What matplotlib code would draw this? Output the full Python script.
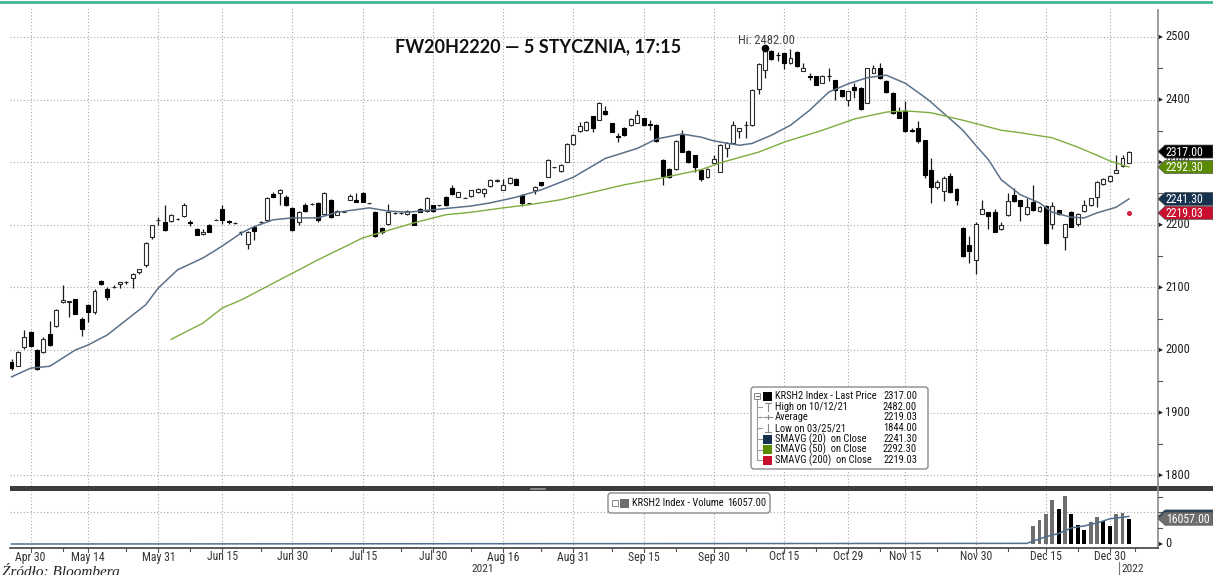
import matplotlib
matplotlib.use("Agg")
import matplotlib.pyplot as plt
import matplotlib.transforms as mtransforms
from matplotlib import font_manager
from matplotlib.patches import Polygon, Rectangle, FancyBboxPatch
from matplotlib.lines import Line2D

# ---------------- data ----------------
opens = [1980, 1975, 2004, 2028, 2000, 1997, 2025, 2038, 2077, 2076,
         2081, 2050, 2072, 2060, 2110, 2098, 2101, 2105, 2108, 2115,
         2125, 2136, 2180, 2207, 2205, 2206, 2209, 2214, 2205, 2193,
         2185, 2199, 2208, 2225, 2206, 2203, 2189, 2170, 2196, 2204,
         2208, 2249, 2251, 2245, 2227, 2204, 2232, 2233, 2234, 2217,
         2239, 2216, 2221, 2240, 2240, 2250, 2234, 2220, 2195, 2202,
         2219, 2219, 2217, 2217, 2226, 2222, 2231, 2231, 2245, 2259,
         2245, 2243, 2246, 2252, 2251, 2262, 2270, 2256, 2266, 2273,
         2248, 2234, 2256, 2268, 2277, 2292, 2286, 2301, 2329, 2350,
         2351, 2373, 2368, 2382, 2362, 2342, 2355, 2359, 2363, 2370,
         2361, 2360, 2304, 2289, 2289, 2343, 2318, 2311, 2288, 2276,
         2299, 2285, 2323, 2331, 2350, 2359, 2359, 2417, 2447, 2478,
         2472, 2474, 2458, 2476, 2446, 2437, 2437, 2427, 2438, 2431,
         2415, 2400, 2420, 2419, 2395, 2443, 2450, 2430, 2411, 2380,
         2382, 2352, 2354, 2335, 2287, 2261, 2254, 2278, 2257, 2195,
         2167, 2144, 2218, 2220, 2221, 2193, 2215, 2248, 2239, 2217,
         2236, 2222, 2230, 2202, 2223, 2180, 2221, 2201, 2222, 2231,
         2245, 2265, 2270, 2283, 2294, 2299]
highs = [1985, 1998, 2032, 2030, 2002, 2020, 2046, 2066, 2104, 2079,
         2082, 2052, 2074, 2097, 2112, 2100, 2103, 2109, 2110, 2123,
         2130, 2172, 2200, 2212, 2231, 2218, 2211, 2234, 2208, 2195,
         2194, 2201, 2210, 2231, 2208, 2205, 2190, 2190, 2198, 2206,
         2245, 2252, 2257, 2247, 2228, 2222, 2234, 2234, 2236, 2253,
         2241, 2223, 2222, 2249, 2251, 2252, 2235, 2222, 2197, 2233,
         2220, 2220, 2223, 2218, 2227, 2244, 2232, 2232, 2246, 2263,
         2253, 2244, 2256, 2258, 2258, 2273, 2273, 2273, 2276, 2274,
         2249, 2235, 2262, 2269, 2305, 2293, 2297, 2330, 2345, 2364,
         2365, 2374, 2396, 2389, 2363, 2346, 2356, 2370, 2384, 2371,
         2368, 2361, 2305, 2290, 2335, 2352, 2319, 2312, 2289, 2290,
         2311, 2329, 2332, 2366, 2355, 2365, 2417, 2458, 2482, 2479,
         2476, 2475, 2481, 2477, 2459, 2442, 2438, 2439, 2450, 2432,
         2416, 2414, 2427, 2420, 2451, 2455, 2458, 2431, 2412, 2388,
         2397, 2354, 2366, 2336, 2306, 2272, 2278, 2283, 2258, 2196,
         2182, 2205, 2239, 2221, 2225, 2204, 2251, 2258, 2240, 2242,
         2263, 2230, 2231, 2237, 2224, 2202, 2222, 2219, 2239, 2243,
         2270, 2274, 2279, 2312, 2312, 2318]
lows = [1968, 1974, 2002, 2005, 1968, 1995, 2006, 2036, 2075, 2052,
        2057, 2022, 2044, 2058, 2104, 2080, 2099, 2099, 2106, 2099,
        2121, 2132, 2178, 2200, 2190, 2205, 2208, 2212, 2198, 2183,
        2184, 2188, 2207, 2202, 2202, 2202, 2183, 2162, 2175, 2203,
        2206, 2244, 2232, 2230, 2190, 2200, 2221, 2232, 2205, 2215,
        2211, 2215, 2220, 2239, 2236, 2236, 2233, 2180, 2186, 2200,
        2218, 2218, 2215, 2199, 2220, 2221, 2221, 2230, 2230, 2248,
        2244, 2242, 2245, 2251, 2244, 2261, 2269, 2255, 2265, 2263,
        2230, 2233, 2249, 2262, 2276, 2291, 2285, 2300, 2328, 2349,
        2350, 2349, 2367, 2376, 2348, 2332, 2342, 2358, 2362, 2358,
        2352, 2333, 2264, 2275, 2288, 2316, 2299, 2284, 2270, 2275,
        2298, 2284, 2308, 2330, 2338, 2338, 2358, 2409, 2435, 2464,
        2462, 2449, 2457, 2452, 2445, 2432, 2423, 2426, 2430, 2400,
        2404, 2389, 2402, 2384, 2394, 2442, 2433, 2411, 2377, 2370,
        2349, 2348, 2330, 2275, 2235, 2257, 2238, 2251, 2231, 2149,
        2139, 2121, 2217, 2194, 2188, 2191, 2214, 2237, 2206, 2216,
        2222, 2221, 2170, 2194, 2216, 2160, 2196, 2198, 2221, 2230,
        2229, 2264, 2269, 2282, 2293, 2298]
closes = [1972, 1996, 2020, 2007, 1970, 2018, 2008, 2064, 2080, 2078,
          2058, 2033, 2060, 2094, 2105, 2084, 2101, 2108, 2108, 2122,
          2129, 2171, 2199, 2208, 2192, 2216, 2209, 2232, 2203, 2184,
          2189, 2189, 2208, 2207, 2205, 2203, 2188, 2188, 2190, 2205,
          2243, 2245, 2256, 2232, 2192, 2220, 2222, 2233, 2207, 2251,
          2212, 2222, 2221, 2246, 2237, 2237, 2234, 2182, 2188, 2221,
          2219, 2219, 2222, 2200, 2221, 2243, 2222, 2231, 2231, 2249,
          2252, 2243, 2255, 2257, 2257, 2272, 2272, 2263, 2275, 2264,
          2234, 2234, 2261, 2263, 2304, 2292, 2296, 2329, 2344, 2357,
          2364, 2355, 2395, 2377, 2349, 2340, 2343, 2369, 2376, 2359,
          2360, 2334, 2278, 2276, 2334, 2317, 2300, 2293, 2273, 2289,
          2305, 2328, 2331, 2359, 2354, 2359, 2416, 2457, 2478, 2465,
          2471, 2458, 2466, 2453, 2450, 2436, 2424, 2438, 2437, 2416,
          2405, 2413, 2416, 2385, 2450, 2450, 2434, 2412, 2378, 2371,
          2350, 2350, 2334, 2279, 2261, 2268, 2274, 2252, 2240, 2150,
          2158, 2202, 2225, 2214, 2189, 2200, 2238, 2238, 2230, 2228,
          2223, 2229, 2171, 2230, 2217, 2201, 2197, 2218, 2231, 2242,
          2269, 2273, 2278, 2287, 2306, 2317]

sma20_idx = [0, 3, 6, 10, 12, 15, 18, 21, 23, 26, 30, 33, 36, 38, 41, 44, 48, 51,
             56, 59, 62, 66, 69, 72, 75, 79, 83, 88, 93, 98, 101, 105, 108, 110,
             114, 116, 119, 122, 125, 128, 131, 134, 137, 140, 143, 144, 149, 151,
             153, 155, 158, 161, 163, 166, 168, 170, 173, 175]
sma20_val = [1957, 1971, 1974, 2000, 2008, 2024, 2048, 2072, 2099, 2128, 2147, 2166,
             2187, 2197, 2208, 2211, 2211, 2220, 2227, 2222, 2220, 2224, 2227, 2230,
             2235, 2244, 2256, 2276, 2306, 2322, 2337, 2345, 2340, 2334, 2327, 2330,
             2343, 2359, 2383, 2412, 2425, 2435, 2439, 2426, 2404, 2396, 2351, 2327,
             2304, 2272, 2248, 2235, 2220, 2212, 2211, 2219, 2228, 2241.3]
sma50_idx = [25, 30, 33, 36, 42, 48, 55, 58, 63, 68, 72, 77, 81, 86, 91, 96, 102,
             108, 111, 117, 121, 127, 132, 137, 140, 144, 149, 155, 158, 163, 167,
             170, 172, 175]
sma50_val = [2017, 2043, 2067, 2080, 2112, 2144, 2179, 2188, 2203, 2216, 2220, 2227,
             2232, 2240, 2252, 2264, 2275, 2288, 2299, 2316, 2332, 2351, 2369, 2380,
             2382, 2379, 2367, 2351, 2347, 2339, 2324, 2311, 2302, 2292.3]
sma200_idx = [175]
sma200_val = [2219.03]

vol_idx = [160, 161, 162, 163, 164, 165, 166, 167, 168, 169, 170, 171, 172, 173, 174, 175]
vol_val = [11470, 15430, 18770, 28150, 22310, 30650, 19180, 12300, 9170, 13970,
           17100, 14600, 11470, 19180, 19810, 16057]
vol_up = [1, 1, 1, 1, 0, 1, 0, 0, 0, 1, 1, 0, 0, 1, 1, 0]
volsma_idx = [0, 159, 162, 164, 166, 168, 170, 172, 175]
volsma_val = [0, 400, 4600, 6700, 10200, 11500, 13300, 16000, 17500]

tick_idx = [3, 12, 23, 33, 44, 55, 66, 77, 88, 99, 110, 121, 131, 140, 151, 162, 172]
tick_labels = ["Apr 30", "May 14", "May 31", "Jun 15", "Jun 30", "Jul 15", "Jul 30",
               "Aug 16", "Aug 31", "Sep 15", "Sep 30", "Oct 15", "Oct 29", "Nov 15",
               "Nov 30", "Dec 15", "Dec 30"]
minor_idx = [8, 18, 28, 39, 50, 61, 72, 83, 94, 104, 115, 126, 136, 145, 156, 167, 176]
price_ticks = [1800, 1900, 2000, 2100, 2200, 2300, 2400, 2500]
price_minor = [1850, 1950, 2050, 2150, 2250, 2350, 2450]

legend_rows = [("KRSH2 Index - Last Price", "2317.00"),
               ("High on 10/12/21", "2482.00"),
               ("Average", "2219.03"),
               ("Low on 03/25/21", "1844.00"),
               ("SMAVG (20)  on Close", "2241.30"),
               ("SMAVG (50)  on Close", "2292.30"),
               ("SMAVG (200)  on Close", "2219.03")]
title = "FW20H2220 \u2014 5 STYCZNIA, 17:15"

# ---------------- fonts ----------------
_installed = {f.name for f in font_manager.fontManager.ttflist}
_narrow = None
for cand in ["Roboto Condensed", "Liberation Sans Narrow", "DejaVu Sans Condensed",
             "Open Sans Condensed"]:
    if cand in _installed:
        _narrow = cand
        break
if _narrow is None:
    _narrow = "Roboto" if "Roboto" in _installed else "DejaVu Sans"
    FS = 0.86
else:
    FS = 1.0
NARROW = [_narrow, "DejaVu Sans"]

C_SMA20 = "#5b7189"
C_SMA50 = "#7cae3f"
C_RED = "#c8102e"
C_GRID = "#a8a8a8"

W, H = 1213, 575
fig = plt.figure(figsize=(W / 100, H / 100), dpi=100)
fig.patch.set_facecolor("white")
ID = mtransforms.IdentityTransform()


def py(y):
    return H - y


ax = fig.add_axes([10 / W, (H - 486) / H, 1147 / W, 478 / H])
axv = fig.add_axes([10 / W, (H - 548) / H, 1147 / W, 57 / H])
XMIN, XMAX = -0.235, 179.4
ax.set_xlim(XMIN, XMAX)
ax.set_ylim(1782.7, 2546.3)
axv.set_xlim(XMIN, XMAX)
axv.set_ylim(-2540, 33650)
for a in (ax, axv):
    for s in a.spines.values():
        s.set_visible(False)
    a.set_xticks([])
    a.set_yticks([])
    a.patch.set_alpha(0)

# grid
for v in price_ticks:
    ax.axhline(v, color=C_GRID, lw=0.8, ls=(0, (1, 2)), zorder=0)
for k in tick_idx:
    ax.axvline(k, color=C_GRID, lw=0.8, ls=(0, (1, 2)), zorder=0)
    axv.axvline(k, color=C_GRID, lw=0.8, ls=(0, (1, 2)), zorder=0)
axv.axhline(20000, color=C_GRID, lw=0.8, ls=(0, (1, 2)), zorder=0)

# candles
for k, (o, h, l, c) in enumerate(zip(opens, highs, lows, closes)):
    up = c >= o
    ax.vlines(k, l, h, color="#1a1a1a", lw=0.9, zorder=2)
    ax.bar(k, abs(c - o), bottom=min(o, c), width=0.62,
           facecolor="white" if up else "black",
           edgecolor="#2a2a2a" if up else "black", lw=0.8, zorder=3)

ax.plot(sma20_idx, sma20_val, color=C_SMA20, lw=1.1, zorder=4)
ax.plot(sma50_idx, sma50_val, color=C_SMA50, lw=1.0, zorder=4)
ax.plot(sma200_idx, sma200_val, "o", color="#d0223a", ms=2.6, zorder=4)

# high marker
ax.plot([118], [max(highs)], "o", color="black", ms=4.5, zorder=5, clip_on=False)

# volume
vcols = ["#6e6e6e" if u else "#000000" for u in vol_up]
axv.bar(vol_idx, vol_val, width=0.62, color=vcols, zorder=3)
axv.plot(volsma_idx, volsma_val, color="#4f6f8f", lw=1.1, zorder=4)

# ---------- frame lines ----------
fig.add_artist(Line2D([0, W], [py(2), py(2)], color="#43b596", lw=2, transform=ID))
fig.add_artist(Line2D([1157.5, 1157.5], [py(10), py(548)], color="#8c8c8c", lw=1.2, transform=ID))
fig.add_artist(Line2D([10, 1157.5], [py(548), py(548)], color="#404040", lw=1.2, transform=ID))
fig.add_artist(Rectangle((10, py(491)), W - 10, 5, facecolor="#3c3c3c", edgecolor="none", transform=ID))
fig.add_artist(Line2D([531, 545], [py(488.5), py(488.5)], color="#9a9a9a", lw=1.2, transform=ID))


def ydisp(a, v):
    return a.transData.transform((0, v))[1]


def xdisp(k):
    return ax.transData.transform((k, 0))[0]


def arrow_tick(yd):
    fig.add_artist(Polygon([(1158, yd + 2.5), (1163, yd), (1158, yd - 2.5)], closed=True,
                           facecolor="#222", edgecolor="none", transform=ID))


# price axis labels
for v in price_ticks:
    yd = ydisp(ax, v)
    arrow_tick(yd)
    fig.text(1165, yd, str(v), ha="left", va="center", fontsize=9 * FS, color="#222",
             family=NARROW, transform=ID)
for v in price_minor:
    yd = ydisp(ax, v)
    fig.add_artist(Line2D([1158, 1162], [yd, yd], color="#555", lw=0.8, transform=ID))

# volume axis
yd0 = ydisp(axv, 0)
arrow_tick(yd0)
fig.text(1165, yd0, "0", ha="left", va="center", fontsize=9 * FS, color="#222",
         family=NARROW, transform=ID)
for v in (10000, 20000, 30000):
    yd = ydisp(axv, v)
    fig.add_artist(Line2D([1158, 1162], [yd, yd], color="#555", lw=0.8, transform=ID))


def tag(yd, text, fc, tc="white", z=10):
    fig.add_artist(Polygon([(1158, yd), (1165, yd + 6.5), (1213, yd + 6.5), (1213, yd - 6.5), (1165, yd - 6.5)],
                           closed=True, facecolor=fc, edgecolor="#555", lw=0.5, transform=ID, zorder=z))
    t = fig.text(1166, yd - 0.5, text, ha="left", va="center", fontsize=8.5 * FS, color=tc,
                 family=NARROW, transform=ID)
    t.set_zorder(z + 1)


tag(ydisp(ax, closes[-1]), "%.2f" % closes[-1], "#000000")
tag(ydisp(ax, sma50_val[-1]), "%.2f" % sma50_val[-1], "#5a8a00")
tag(ydisp(ax, sma20_val[-1]), "%.2f" % sma20_val[-1], "#16324f")
tag(ydisp(ax, sma200_val[-1]), "%.2f" % sma200_val[-1], C_RED)
tag(ydisp(axv, volsma_val[-1]), "", "#1f3f5f", z=8)
tag(ydisp(axv, vol_val[-1]), "%.2f" % vol_val[-1], "#6d6d6d")

# date labels
for k, lab in zip(tick_idx, tick_labels):
    fig.text(xdisp(k), py(557), lab, ha="center", va="center", fontsize=8.5 * FS, color="#333",
             family=NARROW, transform=ID)
    fig.add_artist(Line2D([xdisp(k), xdisp(k)], [py(548), py(552)], color="#555", lw=0.8, transform=ID))
for k in minor_idx:
    fig.add_artist(Line2D([xdisp(k), xdisp(k)], [py(548), py(551)], color="#555", lw=0.8, transform=ID))
fig.text(483, py(569.5), "2021", ha="center", va="center", fontsize=8.2 * FS, color="#333",
         family=NARROW, transform=ID)
fig.text(1133, py(569.5), "2022", ha="center", va="center", fontsize=8.2 * FS, color="#333",
         family=NARROW, transform=ID)
fig.add_artist(Line2D([1119, 1119], [py(562), py(575)], color="#777", lw=0.8, transform=ID))
fig.text(2, py(563), "\u0179r\u00f3d\u0142o: Bloomberg", ha="left", va="top", fontsize=11,
         fontstyle="italic", family=["Liberation Serif", "DejaVu Serif"], color="#222", transform=ID)

# title and Hi annotation
fig.text(538, py(47), title, ha="center", va="center", fontsize=13, fontweight="bold",
         family=["Lato", "DejaVu Sans"], color="#111", transform=ID)
fig.text(738, py(41), "Hi: 2482.00", ha="left", va="center", fontsize=9 * FS, color="#444",
         family=NARROW, transform=ID)

# ---------- legend (price) ----------
fig.add_artist(FancyBboxPatch((751, py(469)), 177, 82, boxstyle="round,pad=0,rounding_size=3",
                              facecolor="white", edgecolor="#8a8a8a", lw=1, transform=ID, zorder=6))
rows_y = [396, 406.5, 417, 428, 439, 449.5, 460]
ZL = 7
LFS = 7.6 * FS
fig.add_artist(Line2D([757, 757], [py(399), py(460)], color="#999", lw=0.8, transform=ID, zorder=ZL))
for ry in rows_y[1:]:
    fig.add_artist(Line2D([757, 762], [py(ry), py(ry)], color="#999", lw=0.8, transform=ID, zorder=ZL))
fig.add_artist(Rectangle((754, py(399)), 6, 6, facecolor="white", edgecolor="#888", lw=0.7, transform=ID, zorder=ZL))
fig.add_artist(Line2D([755.5, 758.5], [py(396), py(396)], color="#666", lw=0.7, transform=ID, zorder=ZL + 1))
sq = {0: "#000000", 4: "#16324f", 5: "#5a8a00", 6: C_RED}
for i, ry in enumerate(rows_y):
    if i in sq:
        fig.add_artist(Rectangle((763, py(ry + 4.5)), 9, 9, facecolor=sq[i], edgecolor="none",
                                 transform=ID, zorder=ZL))
    fig.text(775, py(ry), legend_rows[i][0], ha="left", va="center", fontsize=LFS, color="#111",
             family=NARROW, transform=ID, zorder=ZL)
    fig.text(917, py(ry), legend_rows[i][1], ha="right", va="center", fontsize=LFS, color="#111",
             family=NARROW, transform=ID, zorder=ZL)
g = "#888"
ry = rows_y[1]
fig.add_artist(Line2D([765, 771], [py(ry - 3.5), py(ry - 3.5)], color=g, lw=0.8, transform=ID, zorder=ZL))
fig.add_artist(Line2D([768, 768], [py(ry - 3.5), py(ry + 4)], color=g, lw=0.8, transform=ID, zorder=ZL))
ry = rows_y[2]
fig.add_artist(Line2D([764, 772], [py(ry), py(ry)], color=g, lw=0.8, transform=ID, zorder=ZL))
fig.add_artist(Line2D([768, 768], [py(ry - 2), py(ry + 2)], color=g, lw=0.8, transform=ID, zorder=ZL))
ry = rows_y[3]
fig.add_artist(Line2D([768, 768], [py(ry - 4), py(ry + 3.5)], color=g, lw=0.8, transform=ID, zorder=ZL))
fig.add_artist(Line2D([765, 771], [py(ry + 3.5), py(ry + 3.5)], color=g, lw=0.8, transform=ID, zorder=ZL))

# ---------- legend (volume) ----------
fig.add_artist(FancyBboxPatch((608, py(513)), 162, 20, boxstyle="round,pad=0,rounding_size=3",
                              facecolor="white", edgecolor="#8a8a8a", lw=1, transform=ID, zorder=6))
fig.add_artist(Rectangle((612, py(506)), 6, 6, facecolor="white", edgecolor="#888", lw=0.7, transform=ID, zorder=ZL))
fig.add_artist(Rectangle((620, py(507.5)), 9, 9, facecolor="#6d6d6d", edgecolor="none", transform=ID, zorder=ZL))
fig.text(632, py(503), "KRSH2 Index - Volume", ha="left", va="center", fontsize=LFS, color="#111",
         family=NARROW, transform=ID, zorder=ZL)
fig.text(766, py(503), "%.2f" % vol_val[-1], ha="right", va="center", fontsize=LFS, color="#111",
         family=NARROW, transform=ID, zorder=ZL)

fig.savefig("out.png", dpi=100)
